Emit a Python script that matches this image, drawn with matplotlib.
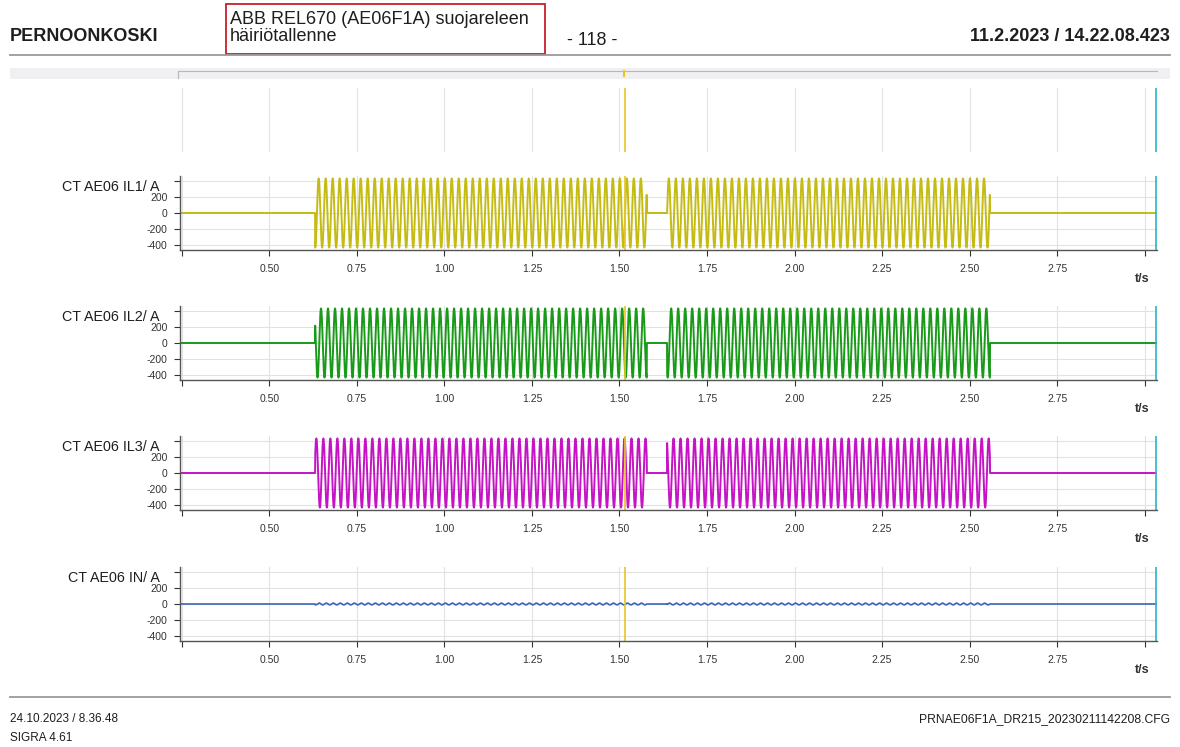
import matplotlib
matplotlib.use("Agg")
import matplotlib.pyplot as plt
import numpy as np
from matplotlib.patches import Rectangle
from matplotlib.lines import Line2D

plt.rcParams['font.family'] = ['Liberation Sans', 'DejaVu Sans']

# recording parameters
channels = ["CT AE06 IL1/ A", "CT AE06 IL2/ A", "CT AE06 IL3/ A", "CT AE06 IN/ A"]
colors = ["#c4bc14", "#1a9a1a", "#c414c4", "#3a66b8"]
amplitudes = [432, 432, 432, 11]      # peak current, A
phases_deg = [72, -48, 192, 40]       # phase vs. record time
freq_hz = 50
bursts = [(0.631, 1.578), (1.636, 2.558)]   # fault current on, s
cursor_t = 1.516
record_end = 3.035
view_start = 0.245
fs = 4000

x_ticks = [0.25, 0.50, 0.75, 1.00, 1.25, 1.50, 1.75, 2.00, 2.25, 2.50, 2.75, 3.00]
x_labels = ["", "0.50", "0.75", "1.00", "1.25", "1.50", "1.75", "2.00", "2.25", "2.50", "2.75", ""]
y_ticks = [400, 200, 0, -200, -400]
y_labels = ["", "200", "0", "-200", "-400"]

W, H = 1180, 747
fig = plt.figure(figsize=(W / 100, H / 100), dpi=100)


def px(x0, y0, x1, y1):
    # pixel box (top-left origin) -> figure fraction rect
    return [x0 / W, 1 - y1 / H, (x1 - x0) / W, (y1 - y0) / H]


t = np.arange(view_start, record_end, 1 / fs)
on = np.zeros_like(t, dtype=bool)
for a, b in bursts:
    on |= (t >= a) & (t <= b)

cursor_col = "#e8c628"
end_col = "#2ab4c8"
grid_col = "#e2e2e2"
ax_col = "#555555"
txt = "#1e1e1e"

# header
fig.text(10 / W, 1 - 41 / H, "PERNOONKOSKI", fontsize=13, fontweight="bold",
         va="baseline", color=txt)
fig.text(230 / W, 1 - 24 / H, "ABB REL670 (AE06F1A) suojareleen", fontsize=13,
         va="baseline", color=txt)
fig.text(230 / W, 1 - 41 / H, "häiriötallenne", fontsize=13, va="baseline", color=txt)
fig.patches.append(Rectangle((226 / W, 1 - 54 / H), 319 / W, 50 / H, transform=fig.transFigure,
                             fill=False, edgecolor="#c8202a", linewidth=1.3))
fig.text(592 / W, 1 - 45 / H, "- 118 -", fontsize=13, ha="center", va="baseline", color=txt)
fig.text(1170 / W, 1 - 41 / H, "11.2.2023 / 14.22.08.423", fontsize=13, fontweight="bold",
         ha="right", va="baseline", color=txt)
fig.add_artist(Line2D([10 / W, 1170 / W], [1 - 55 / H] * 2, color="#9a9a9a", lw=1.3))

# overview strip
fig.patches.append(Rectangle((10 / W, 1 - 79 / H), 1160 / W, 11 / H, transform=fig.transFigure,
                             facecolor="#f0f0f2", edgecolor="none"))
fig.add_artist(Line2D([178 / W, 1157 / W], [1 - 71 / H] * 2, color="#b8b8b8", lw=0.8))
fig.add_artist(Line2D([178 / W, 178 / W], [1 - 71 / H, 1 - 78 / H], color="#b8b8b8", lw=0.8))
fig.add_artist(Line2D([624 / W, 624 / W], [1 - 71 / H, 1 - 76 / H], color=cursor_col, lw=1.5))

# empty binary-signal area above the analog channels
ax0 = fig.add_axes(px(180, 88, 1157, 152))
ax0.set_xlim(view_start, record_end)
ax0.set_ylim(0, 1)
for xt in x_ticks:
    ax0.axvline(xt, color=grid_col, lw=0.8)
ax0.axvline(cursor_t, color=cursor_col, lw=1.2)
ax0.axvline(record_end - 0.002, color=end_col, lw=1.2)
ax0.set_axis_off()

# analog channels
tops = [176, 306, 436, 567]
for name, col, amp, ph, top in zip(channels, colors, amplitudes, phases_deg, tops):
    ax = fig.add_axes(px(180, top, 1157, top + 74))
    y = np.where(on, amp * np.sin(2 * np.pi * freq_hz * t + np.deg2rad(ph)), 0.0)
    ax.set_xlim(view_start, record_end)
    ax.set_ylim(-462, 462)
    ax.set_axisbelow(True)
    ax.grid(True, color=grid_col, lw=0.8)
    ax.plot(t, y, color=col, lw=1.4 if amp > 50 else 1.2)
    ax.axvline(cursor_t, color=cursor_col, lw=1.2)
    ax.axvline(record_end - 0.002, color=end_col, lw=1.2)
    ax.set_xticks(x_ticks)
    ax.set_xticklabels(x_labels)
    ax.set_yticks(y_ticks)
    ax.set_yticklabels(y_labels)
    ax.tick_params(labelsize=7.5, colors="#333333", length=4, width=0.8, pad=5)
    ax.tick_params(axis="x", pad=6)
    for s in ("top", "right"):
        ax.spines[s].set_visible(False)
    for s in ("left", "bottom"):
        ax.spines[s].set_color(ax_col)
        ax.spines[s].set_linewidth(1.0)
    fig.text(160 / W, 1 - (top + 15) / H, name, fontsize=10.3, ha="right", va="baseline",
             color=txt)
    fig.text(1142 / W, 1 - (top + 106) / H, "t/s", fontsize=9, fontweight="bold",
             ha="center", va="baseline", color="#333333")

# footer
fig.add_artist(Line2D([10 / W, 1170 / W], [1 - 697 / H] * 2, color="#9a9a9a", lw=1.3))
fig.text(10 / W, 1 - 722 / H, "24.10.2023 / 8.36.48", fontsize=8.5, va="baseline", color=txt)
fig.text(10 / W, 1 - 741 / H, "SIGRA 4.61", fontsize=8.5, va="baseline", color=txt)
fig.text(1170 / W, 1 - 722 / H, "PRNAE06F1A_DR215_20230211142208.CFG", fontsize=8.7,
         ha="right", va="baseline", color=txt)

fig.savefig("out.png", dpi=100, facecolor="white")
